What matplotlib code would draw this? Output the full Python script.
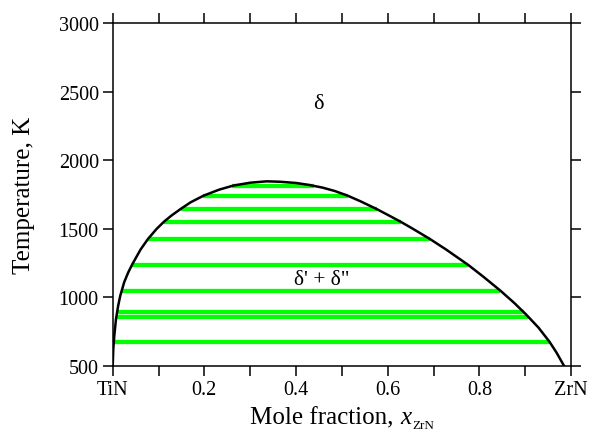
import matplotlib
matplotlib.use("Agg")
import matplotlib.pyplot as plt

plt.rcParams['font.family'] = ['Liberation Serif', 'DejaVu Serif']

# Binodal (miscibility gap boundary):
# left branch (TiN-rich side) from 500 K up to the critical point
left_x = [0.0, 0.0013, 0.0035, 0.0072, 0.012, 0.0165, 0.025, 0.034, 0.043,
          0.061, 0.077, 0.096, 0.112, 0.128, 0.148, 0.170, 0.198, 0.232,
          0.263, 0.300, 0.336]
left_T = [500, 624, 721, 843, 940, 1012, 1110, 1183, 1243,
          1350, 1426, 1500, 1552, 1596, 1644, 1693, 1741, 1785,
          1815, 1836, 1846]
# right branch (ZrN-rich side) from the critical point down to 500 K
right_x = [0.365, 0.400, 0.428, 0.458, 0.485, 0.513, 0.541, 0.576, 0.601,
           0.628, 0.655, 0.692, 0.727, 0.776, 0.809, 0.846, 0.876, 0.901,
           0.929, 0.953, 0.968, 0.985]
right_T = [1843, 1834, 1820, 1800, 1775, 1741, 1700, 1644, 1600,
           1552, 1500, 1426, 1350, 1236, 1150, 1049, 960, 879,
           780, 677, 600, 500]

# Tie lines: temperature, left and right compositions
tie_T = [1812, 1741, 1644, 1552, 1426, 1236, 1049, 891, 857, 677]
tie_xl = [0.260, 0.198, 0.148, 0.112, 0.077, 0.042, 0.020, 0.0095, 0.0075, 0.0025]
tie_xr = [0.440, 0.513, 0.576, 0.628, 0.692, 0.776, 0.846, 0.898, 0.906, 0.953]

xtick_vals = [0.0, 0.2, 0.4, 0.6, 0.8, 1.0]
xtick_labels = ['TiN', '0.2', '0.4', '0.6', '0.8', 'ZrN']
xminor_vals = [0.1, 0.3, 0.5, 0.7, 0.9]
ytick_vals = [500, 1000, 1500, 2000, 2500, 3000]

W, H = 592, 435
fig = plt.figure(figsize=(W / 100, H / 100), dpi=100)
ax = fig.add_axes([112.7 / W, 1 - 367 / H, (571 - 112.7) / W, (367 - 24) / H])

for T, xl, xr in zip(tie_T, tie_xl, tie_xr):
    ax.plot([xl, xr], [T, T], color='#00ff00', lw=3.1, solid_capstyle='butt', zorder=2)

ax.plot(left_x + right_x, left_T + right_T, color='black', lw=1.8, zorder=3,
        solid_joinstyle='round')

ax.text(0.448, 2410, 'δ', fontsize=16, ha='center', va='center')
ax.text(0.457, 1134, "δ' + δ\"", fontsize=15.5, ha='center', va='center')

ax.set_xlim(0, 1)
ax.set_ylim(500, 3000)
ax.set_xticks(xtick_vals)
ax.set_xticklabels(xtick_labels)
ax.set_xticks(xminor_vals, minor=True)
ax.set_yticks(ytick_vals)

ax.tick_params(which='both', direction='out', length=7, width=1.1,
               top=True, right=True, labelsize=14.5, pad=3)
for s in ax.spines.values():
    s.set_linewidth(1.1)

fig.text(24 / W, 1 - 195.5 / H, 'Temperature, K', rotation=90,
         ha='center', va='center', fontsize=18)

# x label built from pieces: main text, italic x, small subscript
r = fig.canvas.get_renderer()
base_y = 1 - 424 / H
parts = [('Mole fraction, ', dict(fontsize=18), 0),
         ('x', dict(fontsize=18, style='italic'), 0),
         ('ZrN', dict(fontsize=9.5), -5)]
texts = []
widths = []
for s, kw, dy in parts:
    t = fig.text(0, base_y + dy / H, s, ha='left', va='baseline', **kw)
    widths.append(t.get_window_extent(r).width)
    texts.append(t)
total = sum(widths) + 1
x0 = 341.9 - total / 2
for t, w in zip(texts, widths):
    t.set_x(x0 / W)
    x0 += w + 0.5

fig.savefig('out.png', dpi=100)
